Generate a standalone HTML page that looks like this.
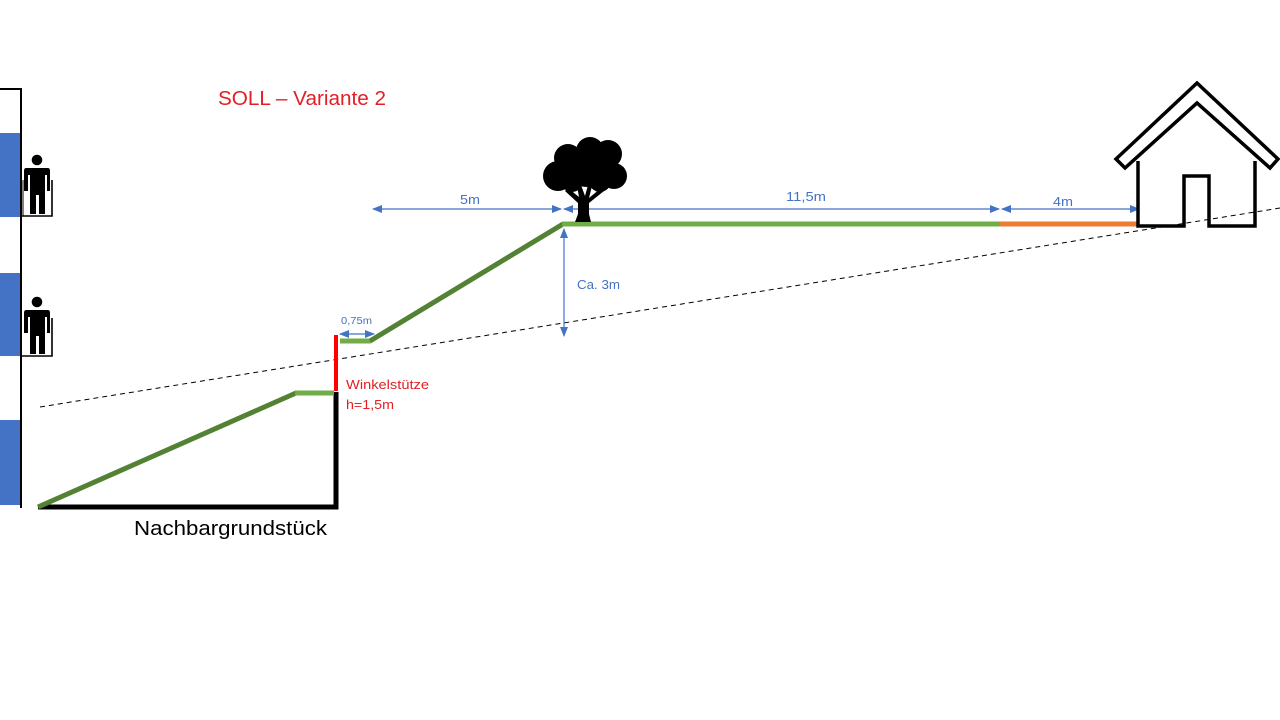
<!DOCTYPE html>
<html><head><meta charset="utf-8"><style>
html,body{margin:0;padding:0;background:#fff;}
svg{display:block;}
text{font-family:"Liberation Sans",sans-serif;}
</style></head><body>
<svg width="1280" height="720" viewBox="0 0 1280 720" xmlns="http://www.w3.org/2000/svg">
<defs>
<marker id="ah" markerWidth="10" markerHeight="8" refX="9" refY="4" orient="auto" markerUnits="userSpaceOnUse">
<path d="M0,0 L10,4 L0,8 Z" fill="#4472c4"/>
</marker>
<marker id="at" markerWidth="10" markerHeight="8" refX="1" refY="4" orient="auto" markerUnits="userSpaceOnUse">
<path d="M10,0 L0,4 L10,8 Z" fill="#4472c4"/>
</marker>
</defs>
<rect width="1280" height="720" fill="#fff"/>

<!-- left building -->
<rect x="0" y="133" width="21" height="84" fill="#4472c4"/>
<rect x="0" y="273" width="21" height="83" fill="#4472c4"/>
<rect x="0" y="420" width="21" height="85" fill="#4472c4"/>
<line x1="0" y1="89" x2="22" y2="89" stroke="#000" stroke-width="2"/>
<line x1="21" y1="88" x2="21" y2="508" stroke="#000" stroke-width="2"/>

<!-- balcony 1 -->
<polyline points="21,216 52,216 52,180" fill="none" stroke="#000" stroke-width="1.6"/>
<g fill="#000">
<circle cx="37" cy="160" r="5.3"/>
<path d="M26,168 L48,168 Q50,168 50,171 L50,191 L47,191 L47,175 L45,175 L45,214 L39,214 L39,195 L36,195 L36,214 L30,214 L30,175 L28,175 L28,191 L24,191 L24,171 Q24,168 26,168 Z"/>
</g>
<line x1="23" y1="180" x2="23" y2="216" stroke="#000" stroke-width="1"/>

<!-- balcony 2 -->
<polyline points="21,356 52,356 52,318" fill="none" stroke="#000" stroke-width="1.6"/>
<g fill="#000">
<circle cx="37" cy="302" r="5.3"/>
<path d="M26,310 L48,310 Q50,310 50,313 L50,333 L47,333 L47,317 L45,317 L45,354 L39,354 L39,336 L36,336 L36,354 L30,354 L30,317 L28,317 L28,333 L24,333 L24,313 Q24,310 26,310 Z"/>
</g>

<!-- dashed reference line -->
<line x1="40" y1="407" x2="1280" y2="208" stroke="#000" stroke-width="1" stroke-dasharray="5,4"/>

<!-- neighbour lot -->
<polyline points="38,507 336,507 336,392" fill="none" stroke="#000" stroke-width="5"/>
<line x1="38" y1="507" x2="296" y2="393" stroke="#548235" stroke-width="5"/>
<line x1="295" y1="393" x2="334" y2="393" stroke="#70ad47" stroke-width="5"/>

<!-- red wall -->
<line x1="336" y1="335" x2="336" y2="391" stroke="#ff0000" stroke-width="4"/>

<!-- upper terrain -->
<line x1="340" y1="341" x2="371" y2="341" stroke="#70ad47" stroke-width="5"/>
<line x1="370" y1="341" x2="563" y2="224" stroke="#548235" stroke-width="5"/>
<line x1="562" y1="224" x2="1000" y2="224" stroke="#70ad47" stroke-width="5"/>
<line x1="1000" y1="224" x2="1138" y2="224" stroke="#ed7d31" stroke-width="5"/>

<!-- dimension lines -->
<g stroke="#4472c4" stroke-width="1.2" fill="none">
<line x1="373" y1="209" x2="561" y2="209" marker-start="url(#at)" marker-end="url(#ah)"/>
<line x1="564" y1="209" x2="999" y2="209" marker-start="url(#at)" marker-end="url(#ah)"/>
<line x1="1002" y1="209" x2="1139" y2="209" marker-start="url(#at)" marker-end="url(#ah)"/>
<line x1="340" y1="334" x2="374" y2="334" marker-start="url(#at)" marker-end="url(#ah)"/>
<line x1="564" y1="229" x2="564" y2="336" marker-start="url(#at)" marker-end="url(#ah)"/>
</g>
<g fill="#4472c4">
<text x="460" y="204" font-size="13" textLength="20" lengthAdjust="spacingAndGlyphs">5m</text>
<text x="786" y="201" font-size="13" textLength="40" lengthAdjust="spacingAndGlyphs">11,5m</text>
<text x="1053" y="206" font-size="13" textLength="20" lengthAdjust="spacingAndGlyphs">4m</text>
<text x="577" y="289" font-size="13" textLength="43" lengthAdjust="spacingAndGlyphs">Ca. 3m</text>
<text x="341" y="324" font-size="10" textLength="31" lengthAdjust="spacingAndGlyphs">0,75m</text>
</g>

<!-- tree -->
<g fill="#000">
<circle cx="590" cy="151" r="14"/>
<circle cx="568" cy="158" r="14"/>
<circle cx="608" cy="154" r="14"/>
<circle cx="558" cy="176" r="15"/>
<circle cx="614" cy="176" r="13"/>
<circle cx="586" cy="168" r="19"/>
<circle cx="572" cy="181" r="11"/>
<circle cx="600" cy="181" r="11"/>
<path d="M575,222 L591,222 L589,214 L589,203 L604,191 L601,188 L589,198 L592,186 L588,185 L585,196 L581,185 L577,186 L579,197 L568,188 L565,191 L578,203 L578,214 Z"/>
</g>

<!-- house -->
<polygon points="1116,159 1197,83 1278,159 1270,168 1197,103 1125,168" fill="#fff" stroke="#000" stroke-width="3.5" stroke-linejoin="miter"/>
<polyline points="1138,161 1138,226 1184,226 1184,176 1209,176 1209,226 1255,226 1255,161" fill="none" stroke="#000" stroke-width="3.5"/>

<!-- labels -->
<text x="218" y="105" font-size="20" fill="#e31e24" textLength="168" lengthAdjust="spacingAndGlyphs">SOLL – Variante 2</text>
<text x="346" y="389" font-size="13" fill="#e31e24" textLength="83" lengthAdjust="spacingAndGlyphs">Winkelstütze</text>
<text x="346" y="409" font-size="13" fill="#e31e24" textLength="48" lengthAdjust="spacingAndGlyphs">h=1,5m</text>
<text x="134" y="535" font-size="20" fill="#000" textLength="193" lengthAdjust="spacingAndGlyphs">Nachbargrundstück</text>
</svg>
</body></html>
